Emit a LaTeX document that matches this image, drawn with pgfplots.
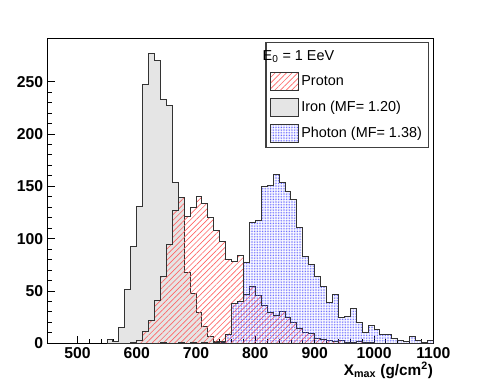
\documentclass[border=0pt]{standalone}
\usepackage{fontspec}
\setmainfont{Liberation Sans}
\usepackage{pgfplots}
\pgfplotsset{compat=1.18}
\usetikzlibrary{patterns.meta}

\begin{document}
\begin{tikzpicture}
\begin{axis}[
  scale only axis,
  width=289.2pt, height=228.75pt,
  xmin=450, xmax=1100, ymin=0, ymax=291.4,
  xtick={500,600,...,1100}, ytick={0,50,...,250},
  minor x tick num=4, minor y tick num=4,
  tick align=inside, xtick pos=bottom, ytick pos=left,
  major tick length=5.5pt, minor tick length=3pt,
  axis line style={line width=0.8pt},
  every tick/.style={black, line width=0.6pt},
  tick label style={font=\fontsize{11.8}{14}\selectfont\bfseries},
  /pgf/number format/assume math mode=true,
  /pgf/number format/1000 sep={},
  xlabel={\textbf{X\textsubscript{max} (g/cm\textsuperscript{2})}},
  xlabel style={at={(rel axis cs:1,0)}, anchor=north east, yshift=-14pt, inner sep=0pt,
    font=\fontsize{11.5}{13}\selectfont},
  legend cell align=left,
  legend style={at={(rel axis cs:0.989,0.987)}, anchor=north east,
    draw=black!75, line width=0.9pt, font=\fontsize{10.8}{13}\selectfont,
    inner xsep=3pt, inner ysep=3.5pt, row sep=5.5pt},
]
% legend entries, in the order of the original
\addlegendimage{empty legend}
\addlegendentry{\hspace*{-29pt}E\textsubscript{0} = 1 EeV}
\addlegendimage{legend image code/.code={\draw[black!80, line width=0.6pt,
  pattern={Lines[angle=45,distance=3pt,line width=0.5pt]}, pattern color=red!60]
  (0pt,-6.75pt) rectangle (21pt,6.75pt);}}
\addlegendentry{Proton}
\addlegendimage{legend image code/.code={\draw[black!80, line width=0.6pt, fill=gray!20]
  (0pt,-6.75pt) rectangle (21pt,6.75pt);}}
\addlegendentry{Iron (MF= 1.20)}
\addlegendimage{legend image code/.code={\draw[black!80, line width=0.6pt,
  pattern={Dots[distance=1.2pt,radius=0.32pt]}, pattern color=blue!75]
  (0pt,-6.75pt) rectangle (21pt,6.75pt);}}
\addlegendentry{Photon (MF= 1.38)}

% iron
\addplot[forget plot, const plot, draw=black!80, line width=0.75pt, fill=gray!20]
coordinates {(550,4) (560,2) (570,15) (580,51) (590,92) (600,131) (610,247) (620,277)
 (630,270) (640,233) (650,227) (660,154) (670,139) (680,68) (690,48) (700,29) (710,16)
 (720,6) (730,2) (740,1) (750,0)} \closedcycle;

% proton
\addplot[forget plot, const plot, draw=black!80, line width=0.75pt,
  pattern={Lines[angle=45,distance=3pt,line width=0.5pt]}, pattern color=red!60]
coordinates {(590,1) (600,3) (610,11) (620,22) (630,41) (640,64) (650,94) (660,127)
 (670,139) (680,121) (690,130) (700,140) (710,134) (720,120) (730,108) (740,97) (750,80)
 (760,78) (770,84) (780,47) (790,54) (800,46) (810,36) (820,29) (830,27) (840,30)
 (850,25) (860,20) (870,14) (880,10) (890,9) (900,5) (910,4) (920,3) (930,2) (940,3)
 (950,1) (960,1) (970,2) (980,1) (990,1) (1000,0)} \closedcycle;

% photon
\addplot[forget plot, const plot, draw=black!80, line width=0.75pt,
  pattern={Dots[distance=1.2pt,radius=0.32pt]}, pattern color=blue!75]
coordinates {(640,1) (650,0) (670,1) (680,0) (690,1) (700,0) (710,1) (720,0) (730,1)
 (740,2) (750,8) (760,38) (770,40) (780,77) (790,115) (800,117) (810,150) (820,151)
 (830,161) (840,154) (850,145) (860,137) (870,111) (880,83) (890,75) (900,64) (910,54)
 (920,39) (930,47) (940,25) (950,26) (960,33) (970,20) (980,10) (990,17) (1000,13)
 (1010,8) (1020,8) (1030,5) (1040,3) (1050,2) (1060,6) (1070,3) (1080,1) (1090,3)
 (1100,3)} \closedcycle;
\end{axis}
\pgfresetboundingbox
\path[use as bounding box] ([shift={(-35.8pt,-29pt)}]current axis.south west)
  rectangle ([shift={(36.5pt,28.7pt)}]current axis.north east);
\end{tikzpicture}
\end{document}
